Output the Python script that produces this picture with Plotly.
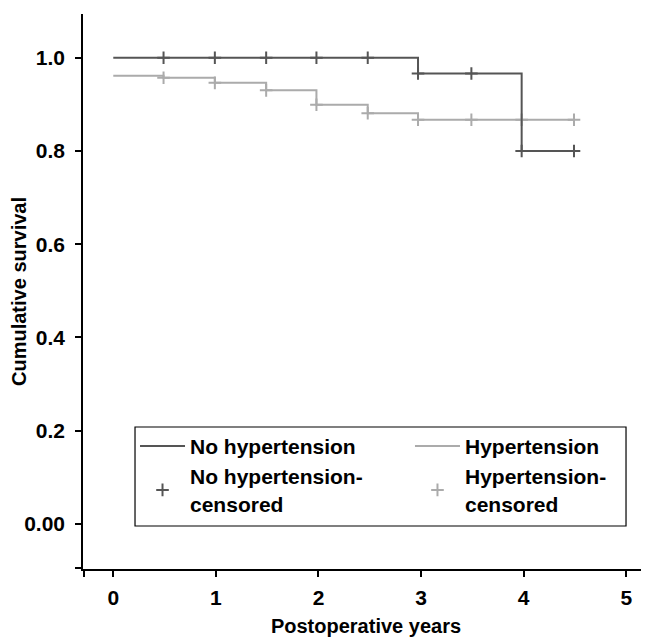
import plotly.graph_objects as go

# ---- data ----
no_htn_time = [0.0, 2.97, 3.98, 4.49]
no_htn_surv = [1.0, 0.966, 0.80, 0.80]
no_htn_cens_time = [0.49, 0.99, 1.49, 1.98, 2.48, 2.97, 3.49, 3.98, 4.49]
no_htn_cens_surv = [1.0, 1.0, 1.0, 1.0, 1.0, 0.966, 0.966, 0.80, 0.80]

htn_time = [0.0, 0.49, 0.99, 1.49, 1.98, 2.48, 2.97, 4.49]
htn_surv = [0.961, 0.957, 0.946, 0.930, 0.899, 0.881, 0.867, 0.867]
htn_cens_time = [0.49, 0.99, 1.49, 1.98, 2.48, 2.97, 3.49, 3.98, 4.49]
htn_cens_surv = [0.957, 0.946, 0.930, 0.899, 0.881, 0.867, 0.867, 0.867, 0.867]

x_tickvals = [-0.29, 0, 1, 2, 3, 4, 5]
x_ticktext = ["", "0", "1", "2", "3", "4", "5"]
y_tickvals = [-0.0955, 0.0, 0.2, 0.4, 0.6, 0.8, 1.0]
y_ticktext = ["", "0.00", "0.2", "0.4", "0.6", "0.8", "1.0"]

DARK = "#555555"
LIGHT = "#ababab"
FONT = "Liberation Sans, Arial, Helvetica, sans-serif"

fig = go.Figure()
fig.add_trace(go.Scatter(x=htn_time, y=htn_surv, mode="lines", line=dict(color=LIGHT, width=2, shape="hv"),
                         name="<b>Hypertension</b>", legend="legend2", legendrank=1))
fig.add_trace(go.Scatter(x=htn_cens_time, y=htn_cens_surv, mode="markers",
                         marker=dict(symbol="cross-thin", size=9, line=dict(color=LIGHT, width=2)),
                         name="<b>Hypertension-<br>censored</b>", legend="legend2", legendrank=2))
fig.add_trace(go.Scatter(x=no_htn_time, y=no_htn_surv, mode="lines", line=dict(color=DARK, width=2, shape="hv"),
                         name="<b>No hypertension</b>", legend="legend", legendrank=1))
fig.add_trace(go.Scatter(x=no_htn_cens_time, y=no_htn_cens_surv, mode="markers",
                         marker=dict(symbol="cross-thin", size=9, line=dict(color=DARK, width=2)),
                         name="<b>No hypertension-<br>censored</b>", legend="legend", legendrank=2))

legend_common = dict(
    orientation="v", yanchor="top", xanchor="left",
    borderwidth=0, bgcolor="rgba(0,0,0,0)",
    font=dict(size=21, family=FONT, color="black"),
    itemwidth=45, traceorder="normal",
)

# page body has an 8px margin: figure is 641x634, shifted by 8px
fig.update_layout(
    width=641, height=634,
    margin=dict(l=75, r=0, t=6, b=73, autoexpand=False),
    plot_bgcolor="white", paper_bgcolor="white",
    font=dict(family=FONT, size=20, color="black"),
    legend=dict(x=0.0919, y=0.2580, **legend_common),
    legend2=dict(x=0.5777, y=0.2580, **legend_common),
    showlegend=True,
)
# frame around the two legend columns
fig.add_shape(type="rect", xref="paper", yref="paper",
              x0=0.0919, x1=0.9594, y0=0.0775, y1=0.2559,
              line=dict(color="black", width=1.2), fillcolor="rgba(0,0,0,0)")

fig.update_xaxes(
    range=[-0.295, 5.221], showgrid=False, zeroline=False, automargin=False,
    showline=True, linecolor="black", linewidth=1.5,
    ticks="outside", ticklen=6, tickwidth=1.5, tickcolor="black",
    tickvals=x_tickvals, ticktext=x_ticktext, ticklabelstandoff=3,
    tickfont=dict(size=21, family=FONT, weight="bold"),
    title=dict(text="<b>Postoperative years</b>", font=dict(size=20, family=FONT), standoff=11),
)
fig.update_yaxes(
    range=[-0.0966, 1.0937], showgrid=False, zeroline=False, automargin=False,
    showline=True, linecolor="black", linewidth=1.5,
    ticks="outside", ticklen=6, tickwidth=1.5, tickcolor="black",
    tickvals=y_tickvals, ticktext=y_ticktext, ticklabelstandoff=6,
    tickfont=dict(size=21, family=FONT, weight="bold"),
    title=dict(text="<b>Cumulative survival</b>", font=dict(size=20, family=FONT), standoff=5),
)

fig.write_html("out.html")
